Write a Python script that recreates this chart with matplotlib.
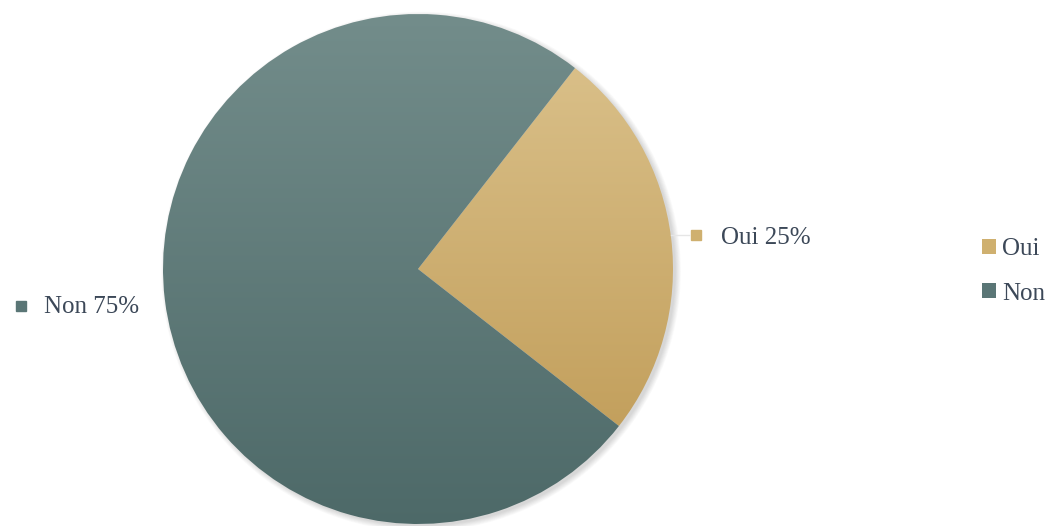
import numpy as np
import matplotlib
matplotlib.use("Agg")
import matplotlib.pyplot as plt
from matplotlib.colors import LinearSegmentedColormap
from matplotlib.patches import Circle, Patch

# donnees
categories = ["Oui", "Non"]
valeurs = [25, 75]
pourcentages = ["25%", "75%"]

# couleurs (haut, bas) pour le degrade
couleurs_haut = ["#d9bf88", "#738d8b"]
couleurs_bas = ["#c3a05d", "#4d6968"]
couleurs_legende = ["#cfb06f", "#5a7676"]
texte_couleur = "#3c4858"

plt.rcParams["font.family"] = ["Liberation Serif", "DejaVu Serif"]

fig = plt.figure(figsize=(10.53, 5.26), dpi=100)
W, H = 1053, 526
cx, cy, rp = 418, 269, 255
ax = fig.add_axes([(cx - rp) / W, (H - cy - rp) / H, 2 * rp / W, 2 * rp / H])
ax.set_xlim(-1, 1)
ax.set_ylim(-1, 1)
ax.set_aspect("equal")
ax.axis("off")

# ombre douce (vers la droite et le bas)
for i in range(8):
    ax.add_patch(Circle((0.012, -0.010), 0.998 + i * 0.003, color="k",
                        alpha=0.02, lw=0, zorder=0, clip_on=False))

wedges, _ = ax.pie(valeurs, startangle=52, counterclock=False, radius=1,
                   wedgeprops=dict(linewidth=0))

for w, c_top, c_bot in zip(wedges, couleurs_haut, couleurs_bas):
    w.set_facecolor("none")
    w.set_zorder(2)
    verts = w.get_path().vertices
    y0, y1 = verts[:, 1].min(), verts[:, 1].max()
    cmap = LinearSegmentedColormap.from_list("g", [c_bot, c_top])
    grad = np.linspace(1, 0, 256).reshape(-1, 1)
    im = ax.imshow(grad, cmap=cmap, extent=(-1, 1, y0, y1), aspect="auto",
                   zorder=1, interpolation="bilinear")
    im.set_clip_path(w)
ax.set_xlim(-1, 1)
ax.set_ylim(-1, 1)

# etiquettes de donnees
fig.canvas.draw()
renderer = fig.canvas.get_renderer()
for w, cat, pct, col in zip(wedges, categories, pourcentages, couleurs_legende):
    ang = np.deg2rad((w.theta1 + w.theta2) / 2)
    px, py = 1.1 * np.cos(ang), 1.1 * np.sin(ang)
    if np.cos(ang) > 0:
        ax.plot([np.cos(ang), px - 0.03], [np.sin(ang) + 0.01, np.sin(ang) + 0.01],
                color="#e6e6e6", lw=1, clip_on=False, zorder=1)
        ax.plot(px, py, marker="s", ms=7.5, color=col, clip_on=False, zorder=3)
        ax.annotate(cat + " " + pct, (px, py), xytext=(18, -2.5),
                    textcoords="offset points", ha="left", va="center",
                    fontsize=18, color=texte_couleur, annotation_clip=False)
    else:
        t = ax.annotate(cat + " " + pct, (px, py), xytext=(0, -2.5),
                        textcoords="offset points", ha="right", va="center",
                        fontsize=18, color=texte_couleur, annotation_clip=False)
        bb = t.get_window_extent(renderer)
        mx, _ = ax.transData.inverted().transform((bb.x0 - 23, bb.y0))
        ax.plot(mx, py - 0.01, marker="s", ms=7.5, color=col, clip_on=False, zorder=3)

# legende
handles = [Patch(facecolor=c, edgecolor="none") for c in couleurs_legende]
leg = fig.legend(handles, categories, loc="center left",
                 bbox_to_anchor=(0.933, 0.484), frameon=False, fontsize=18,
                 handlelength=0.55, handleheight=0.55, handletextpad=0.25,
                 labelspacing=0.9, borderpad=0, borderaxespad=0)
for txt in leg.get_texts():
    txt.set_color(texte_couleur)

fig.savefig("out.png", dpi=100)
